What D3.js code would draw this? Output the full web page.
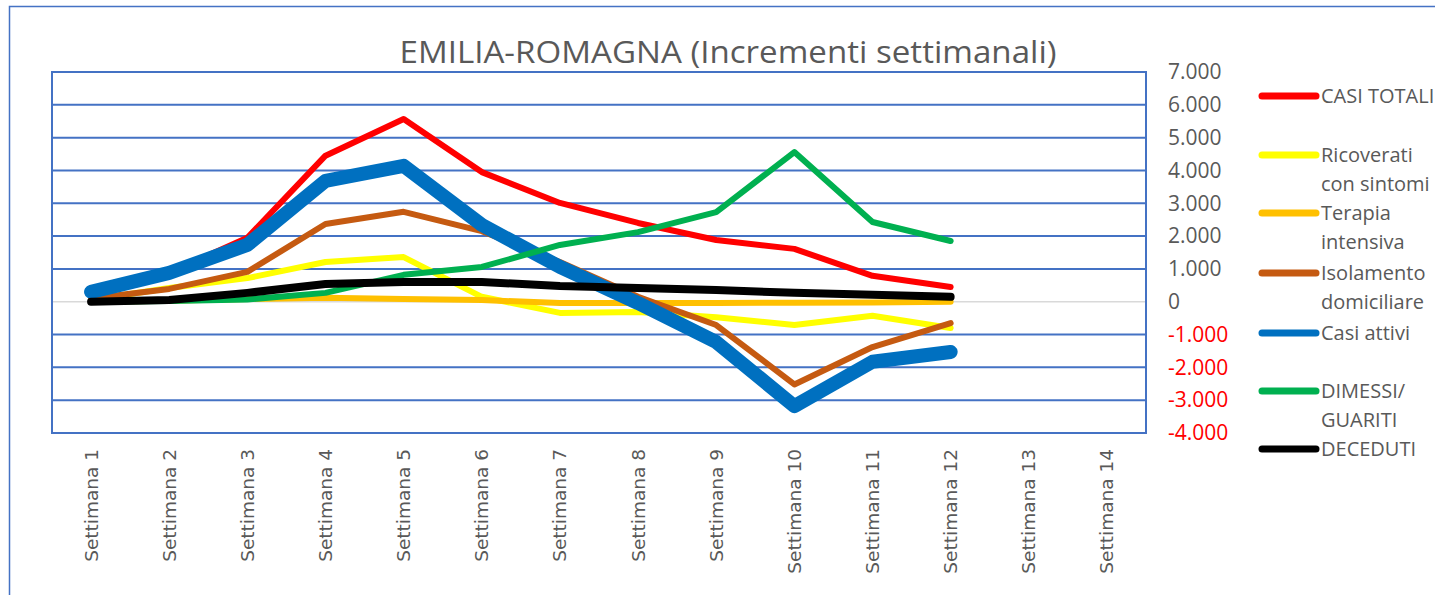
<!DOCTYPE html>
<html>
<head>
<meta charset="utf-8">
<script src="https://cdn.jsdelivr.net/npm/d3@7"></script>
<style>
  html, body { margin: 0; padding: 0; background: #fff; }
  svg { display: block; }
</style>
</head>
<body>
<svg id="chart" width="1435" height="595"></svg>
<script>
// settimane (categorie asse x)
const weeks = d3.range(1, 15).map(d => 'Settimana ' + d)
const yTicks = d3.range(-4000, 7001, 1000)

// incrementi settimanali (settimane 1-12)
const casiTotali   = [300, 880, 1950, 4450, 5570, 3950, 3010, 2400, 1880, 1610, 790, 450]
const ricoverati   = [50, 420, 720, 1210, 1360, 150, -340, -310, -470, -710, -430, -800]
const terapia      = [0, 30, 80, 120, 80, 50, -40, -40, -40, -30, -20, 0]
const isolamento   = [100, 390, 910, 2370, 2740, 2150, 1210, 150, -710, -2520, -1380, -650]
const casiAttivi   = [300, 880, 1730, 3680, 4140, 2340, 1060, -40, -1230, -3180, -1830, -1530]
const dimessi      = [0, 20, 70, 270, 820, 1060, 1730, 2120, 2730, 4560, 2430, 1850]
const deceduti     = [0, 50, 270, 540, 600, 600, 480, 420, 360, 270, 210, 150]

const seriesNames = [['CASI TOTALI'], ['Ricoverati', 'con sintomi'], ['Terapia', 'intensiva'],
  ['Isolamento', 'domiciliare'], ['Casi attivi'], ['DIMESSI/', 'GUARITI'], ['DECEDUTI']]
const seriesColors = ['#ff0000', '#ffff00', '#ffc000', '#c55a11', '#0070c0', '#00b050', '#000000']
const seriesValues = [casiTotali, ricoverati, terapia, isolamento, casiAttivi, dimessi, deceduti]

const series = seriesNames.map((name, i) => ({
  name: name, color: seriesColors[i], values: seriesValues[i]
}))

const blue = '#4472c4'
const grey = '#595959'
const font = '"Open Sans", "Noto Sans", sans-serif'

const svg = d3.select('#chart')
const plot = {left: 52, top: 72, right: 1146, bottom: 433}

// bordo esterno
svg.append('rect')
  .attr('x', 9.5).attr('y', 6.5)
  .attr('width', 1500).attr('height', 700)
  .attr('fill', 'none').attr('stroke', blue).attr('stroke-width', 1.5)

const x = d3.scaleBand().domain(weeks).range([plot.left, plot.right]).padding(0)
const y = d3.scaleLinear().domain([-4000, 7000]).range([plot.bottom, plot.top])

const it = d3.formatLocale({decimal: ',', thousands: '.', grouping: [3], currency: ['', '€'], minus: '-'})
const fmt = it.format(',.0f')

// griglia
svg.append('g')
  .selectAll('line')
  .data(yTicks)
  .join('line')
  .attr('x1', plot.left).attr('x2', plot.right)
  .attr('y1', d => y(d)).attr('y2', d => y(d))
  .attr('stroke', d => d === 0 ? '#d9d9d9' : blue)
  .attr('stroke-width', d => d === 0 ? 1.5 : 2)

svg.append('rect')
  .attr('x', plot.left).attr('y', plot.top)
  .attr('width', plot.right - plot.left).attr('height', plot.bottom - plot.top)
  .attr('fill', 'none').attr('stroke', blue).attr('stroke-width', 2)

// asse y a destra
const yAxis = svg.append('g')
  .attr('transform', `translate(${plot.right + 22},0)`)
  .call(d3.axisRight(y).tickValues(yTicks).tickFormat(fmt).tickSize(0).tickPadding(0))
yAxis.select('.domain').remove()
yAxis.selectAll('text')
  .attr('font-family', font).attr('font-size', 21)
  .attr('fill', d => d < 0 ? '#ff0000' : grey)

// asse x
const xAxis = svg.append('g')
  .attr('transform', `translate(0,${plot.bottom})`)
  .call(d3.axisBottom(x).tickSize(0).tickPadding(0))
xAxis.select('.domain').remove()
xAxis.selectAll('text')
  .attr('font-family', '"DejaVu Sans", sans-serif').attr('font-size', 18.5)
  .attr('fill', grey)
  .attr('transform', 'rotate(-90)')
  .attr('text-anchor', 'end')
  .attr('x', -16).attr('y', 0).attr('dy', '0.35em')

// linee
const line = d3.line()
  .x((d, i) => x(weeks[i]) + x.bandwidth() / 2)
  .y(d => y(d))

const widths = [6, 6, 6, 6, 14, 6, 8]
svg.append('g')
  .selectAll('path')
  .data(series)
  .join('path')
  .attr('fill', 'none')
  .attr('stroke', d => d.color)
  .attr('stroke-width', (d, i) => widths[i])
  .attr('stroke-linejoin', 'round')
  .attr('stroke-linecap', 'round')
  .attr('d', d => line(d.values))

// titolo
svg.append('text')
  .attr('x', 728).attr('y', 63)
  .attr('text-anchor', 'middle')
  .attr('font-family', font).attr('font-size', 31)
  .attr('textLength', 657).attr('lengthAdjust', 'spacingAndGlyphs')
  .attr('fill', grey)
  .text('EMILIA-ROMAGNA (Incrementi settimanali)')

// legenda
const legendY = [96, 155, 213, 273, 333, 391, 449]
const legend = svg.append('g')
  .selectAll('g')
  .data(series)
  .join('g')
  .attr('transform', (d, i) => `translate(1262,${legendY[i]})`)
legend.append('line')
  .attr('x1', 0).attr('x2', 54)
  .attr('stroke', d => d.color).attr('stroke-width', 7)
  .attr('stroke-linecap', 'round')
legend.append('text')
  .attr('font-family', font).attr('font-size', 20)
  .attr('fill', grey)
  .selectAll('tspan')
  .data(d => d.name)
  .join('tspan')
  .attr('x', 59)
  .attr('y', (d, i) => i * 29)
  .attr('dy', '0.35em')
  .text(d => d)
</script>
</body>
</html>
